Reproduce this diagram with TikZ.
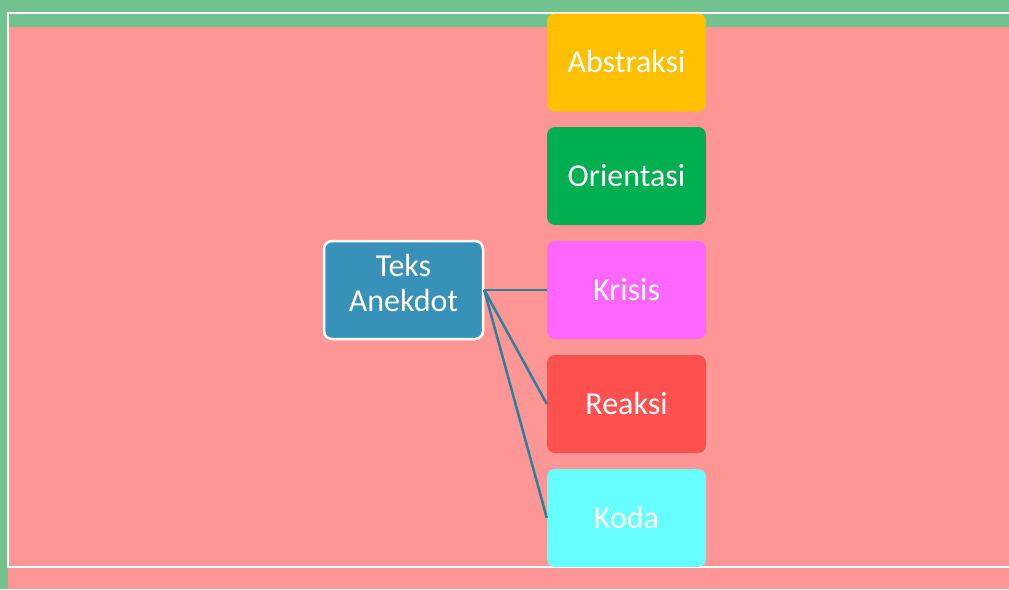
\documentclass[tikz,border=0pt]{standalone}
\usepackage{fontspec}
\setmainfont{Carlito}
\definecolor{bggreen}{HTML}{72C28F}
\definecolor{bgpink}{HTML}{FF9696}
\definecolor{rootblue}{HTML}{3791B9}
\definecolor{linkblue}{HTML}{2F7E9B}
\definecolor{cabstraksi}{HTML}{FFC000}
\definecolor{corientasi}{HTML}{00B050}
\definecolor{ckrisis}{HTML}{FF66FF}
\definecolor{creaksi}{HTML}{FF5050}
\definecolor{ckoda}{HTML}{66FFFF}
\tikzset{
  stepbox/.style={rounded corners=8pt, minimum width=159pt, minimum height=98pt,
    inner sep=0pt, text=white, font=\fontsize{32}{35}\selectfont, align=center,
    text height=23pt, text depth=3pt},
  rootbox/.style={rounded corners=8pt, draw=white, line width=2.5pt, fill=rootblue,
    minimum width=159pt, minimum height=98pt, inner sep=0pt, text=white,
    font=\fontsize{32}{35}\selectfont},
  link/.style={draw=linkblue, line width=2.5pt}
}
\begin{document}
\begin{tikzpicture}[x=1pt,y=-1pt]
  % page frame
  \useasboundingbox (0,0) rectangle (1009,589);
  \clip (0,0) rectangle (1009,589);
  % background
  \fill[bggreen] (0,0) rectangle (1009,589);
  \fill[bgpink] (8,27) rectangle (1009,589);
  \draw[white, line width=2pt] (8,12.5) rectangle (1030,567);

  % root node
  \node[rootbox] (root) at (403.5,290)
    {\raisebox{3pt}[\height][\depth]{\begin{tabular}{@{}c@{}}Teks\\Anekdot\end{tabular}}};

  % stages
  \node[stepbox, fill=cabstraksi] (abstraksi) at (626.5,62.5) {Abstraksi};
  \node[stepbox, fill=corientasi] (orientasi) at (626.5,176) {Orientasi};
  \node[stepbox, fill=ckrisis] (krisis) at (626.5,290) {Krisis};
  \node[stepbox, fill=creaksi] (reaksi) at (626.5,404) {Reaksi};
  \node[stepbox, fill=ckoda] (koda) at (626.5,518) {Koda};

  % connectors
  \draw[link] (root.east) -- (krisis.west);
  \draw[link] (root.east) -- (reaksi.west);
  \draw[link] (root.east) -- (koda.west);
\end{tikzpicture}
\end{document}
